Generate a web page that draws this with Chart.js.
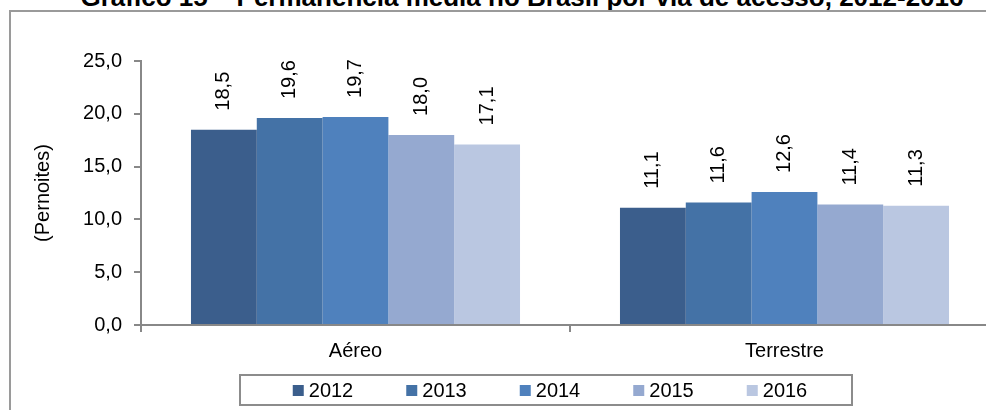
<!DOCTYPE html>
<html>
<head>
<meta charset="utf-8">
<script src="https://cdn.jsdelivr.net/npm/chart.js@4.4.0/dist/chart.umd.min.js"></script>
<style>
  html, body { margin: 0; padding: 0; background: #fff; overflow: hidden; width: 986px; height: 410px; }
  #titulo { position: absolute; left: 0; width: 1044px; top: -18px; text-align: center; line-height: 26px;
            font: bold 26px "Liberation Sans", Arial, sans-serif; color: #000; white-space: nowrap; }
  #moldura { position: absolute; left: 9px; top: 10px; width: 1200px; height: 500px;
             border: 2px solid #9a9a9a; box-sizing: border-box; }
  #wrap { position: absolute; left: 0; top: 0; width: 1092px; height: 410px; }
</style>
</head>
<body>
<div id="titulo">Gráfico 15 – Permanência média no Brasil por via de acesso, 2012-2016</div>
<div id="moldura"></div>
<div id="wrap"><canvas id="graph"></canvas></div>
<script>
// categorias e series (pernoites)
let categorias = ['Aéreo', 'Terrestre'];
let anos = ['2012', '2013', '2014', '2015', '2016'];
let v2012 = [18.5, 11.1];
let v2013 = [19.6, 11.6];
let v2014 = [19.7, 12.6];
let v2015 = [18.0, 11.4];
let v2016 = [17.1, 11.3];
let yTicks = [0, 5, 10, 15, 20, 25];

let cores = ['#3b5e8c', '#4472a6', '#4f81bd', '#95a9d0', '#bac7e1'];
let series = [v2012, v2013, v2014, v2015, v2016];

let fonte = '"Liberation Sans", Arial, sans-serif';
let cinza = '#888888';

function virgula(v) {
    return v.toFixed(1).replace('.', ',');
}

// rotulos verticais acima das barras
let rotulos = {
    id: 'rotulos',
    afterDatasetsDraw(chart) {
        let ctx = chart.ctx;
        ctx.save();
        ctx.font = '20px ' + fonte;
        ctx.fillStyle = '#000';
        ctx.textAlign = 'left';
        ctx.textBaseline = 'middle';
        chart.data.datasets.forEach(function (ds, i) {
            chart.getDatasetMeta(i).data.forEach(function (bar, j) {
                ctx.save();
                ctx.translate(bar.x, bar.y - 19);
                ctx.rotate(-Math.PI / 2);
                ctx.fillText(virgula(ds.data[j]), 0, 0);
                ctx.restore();
            });
        });
        ctx.restore();
    }
};

// legenda desenhada a mao, com caixa em volta
let legenda = {
    id: 'legenda',
    afterDraw(chart) {
        let ctx = chart.ctx;
        let sets = chart.data.datasets;
        ctx.save();
        ctx.font = '20px ' + fonte;
        let passo = 113.5;
        let larg = 11 + 5 + ctx.measureText(sets[0].label).width;
        let total = passo * (sets.length - 1) + larg;
        let centro = chart.width / 2;
        let x0 = centro + 4 - total / 2;
        let cy = 390;
        ctx.strokeStyle = '#8c8c8c';
        ctx.lineWidth = 2;
        ctx.strokeRect(centro - 306, cy - 15, 612, 30);
        ctx.textAlign = 'left';
        ctx.textBaseline = 'middle';
        sets.forEach(function (ds, i) {
            let x = x0 + i * passo;
            ctx.fillStyle = ds.backgroundColor;
            ctx.fillRect(x, cy - 5, 11, 11);
            ctx.fillStyle = '#000';
            ctx.fillText(ds.label, x + 16, cy + 1);
        });
        ctx.restore();
    }
};

let data = {
    labels: categorias,
    datasets: anos.map(function (a, i) {
        return {
            label: a,
            data: series[i],
            backgroundColor: cores[i],
            borderWidth: 0,
            barPercentage: 1,
            categoryPercentage: 0.767
        };
    })
};

let config = {
    type: 'bar',
    data: data,
    options: {
        responsive: true,
        maintainAspectRatio: false,
        animation: false,
        layout: { padding: { top: 61, right: 93, left: 0, bottom: 40 } },
        plugins: {
            tooltip: { enabled: false },
            legend: { display: false }
        },
        scales: {
            x: {
                grid: { offset: true, drawOnChartArea: false, drawTicks: true, tickLength: 7, color: cinza, lineWidth: 2 },
                border: { color: cinza, width: 2 },
                ticks: { color: '#000', padding: 7, font: { family: fonte, size: 20 } }
            },
            y: {
                min: 0,
                max: 25,
                afterBuildTicks: function (s) { s.ticks = yTicks.map(function (v) { return { value: v }; }); },
                afterFit: function (s) { s.width = 141; },
                grid: { drawOnChartArea: false, drawTicks: true, tickLength: 7, color: cinza, lineWidth: 2 },
                border: { color: cinza, width: 2 },
                ticks: {
                    color: '#000',
                    padding: 12,
                    font: { family: fonte, size: 20 },
                    callback: function (v) { return virgula(v); }
                },
                title: {
                    display: true,
                    text: '(Pernoites)',
                    color: '#000',
                    padding: { top: 31, bottom: 0 },
                    font: { family: fonte, size: 20 }
                }
            }
        }
    },
    plugins: [rotulos, legenda]
};

let myChart = new Chart(document.getElementById('graph'), config);
</script>
</body>
</html>
